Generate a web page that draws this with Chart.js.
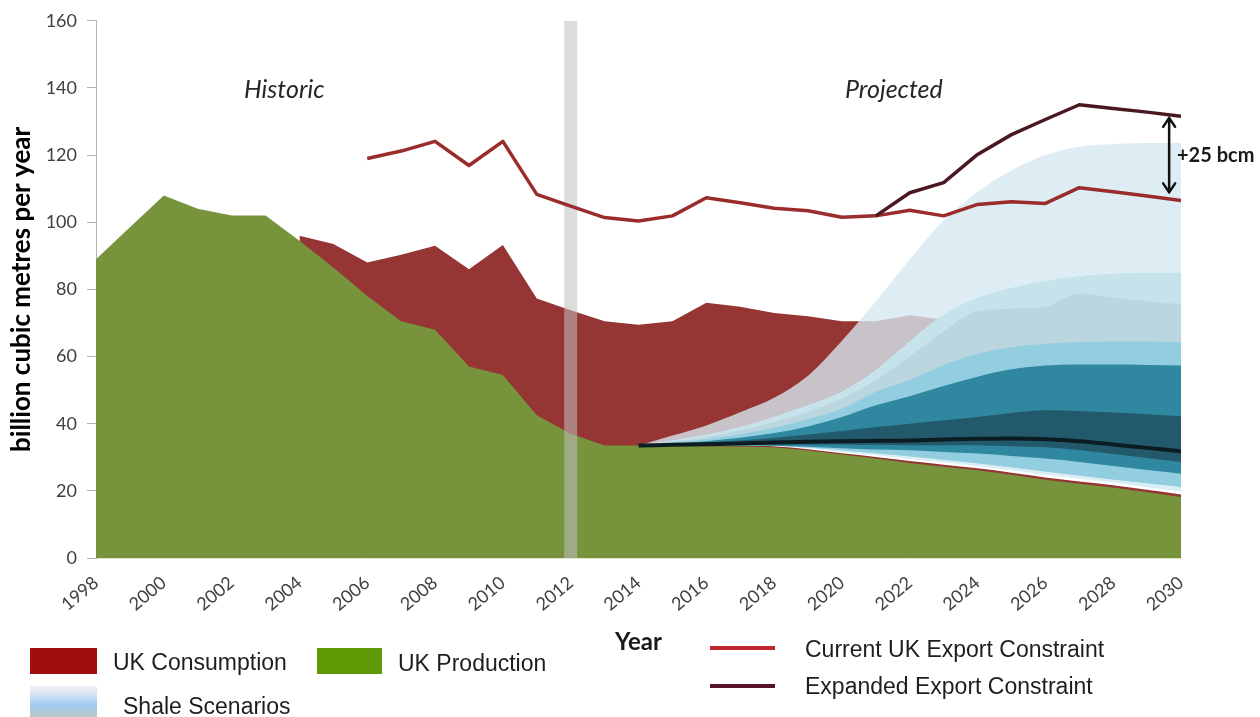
<!DOCTYPE html>
<html><head><meta charset="utf-8">
<script src="https://cdn.jsdelivr.net/npm/chart.js@4.4.0/dist/chart.umd.min.js"></script>
<style>
html,body{margin:0;padding:0;background:#fff;}
#wrap{position:relative;width:1260px;height:717px;overflow:hidden;background:#fff;}
#c{position:absolute;left:0;top:0;}
.t{position:absolute;white-space:nowrap;}
.ann{font-family:Lato,sans-serif;font-style:italic;font-size:25px;line-height:25px;color:#262626;}
.leg{font-family:"Liberation Sans",Arial,sans-serif;font-size:23px;line-height:23px;color:#1e1e1e;}
.sw{position:absolute;}
</style></head><body>
<div id="wrap">
<canvas id="c" width="1260" height="717"></canvas>
<div class="t ann" style="left:244px;top:76px;">Historic</div>
<div class="t ann" style="left:845px;top:76px;">Projected</div>
<div class="t" style="left:1177px;top:144px;font-family:Lato,sans-serif;font-weight:bold;font-size:20px;line-height:20px;color:#1a1a1a;">+25 bcm</div>

<div class="sw" style="left:30px;top:648px;width:67px;height:26px;background:#9f0e0e;"></div>
<div class="t leg" style="left:113px;top:651px;">UK Consumption</div>
<div class="sw" style="left:317px;top:648px;width:65px;height:26px;background:#5e9a06;"></div>
<div class="t leg" style="left:398px;top:652px;">UK Production</div>
<div class="sw" style="left:30px;top:686px;width:67px;height:31px;background:linear-gradient(to bottom,#f7eff8 0%,#dbe5f6 25%,#a0cbf2 60%,#b9c8c2 100%);"></div>
<div class="t leg" style="left:123px;top:695px;">Shale Scenarios</div>
<div class="sw" style="left:710px;top:646px;width:65px;height:4px;background:#c0262d;"></div>
<div class="t leg" style="left:805px;top:638px;">Current UK Export Constraint</div>
<div class="sw" style="left:710px;top:684px;width:65px;height:4px;background:#571427;"></div>
<div class="t leg" style="left:805px;top:675px;">Expanded Export Constraint</div>
</div>
<script>
// ---- data (billion cubic metres per year) ----
const productionStart = 1998;
const production = [89, 98.5, 108, 104, 102, 102, 94.5, 86.5, 78, 70.5, 68, 57, 54.5, 42.5, 37, 33.5, 33.5,
  33.5, 33.3, 33.2, 33, 32, 30.8, 29.6, 28.3, 27.2, 26.1, 24.8, 23.3, 22.1, 21, 19.6, 18.2];
const consumptionStart = 2004;
const consumption = [96, 93.5, 88, 90.3, 93, 86, 93.2, 77.3, 73.8, 70.5, 69.5, 70.5, 76, 74.8, 73, 72, 70.5,
  70.5, 72.3, 71, 70, 70, 70, 70, 70, 70, 70];
const currentStart = 2006;
const currentConstraint = [119, 121.2, 124.1, 116.9, 124.1, 108.3, 104.8, 101.4, 100.4, 101.9, 107.3, 105.8,
  104.2, 103.4, 101.5, 101.9, 103.6, 101.9, 105.3, 106.1, 105.6, 110.3, 109.1, 107.8, 106.5];
const expandedStart = 2021;
const expandedConstraint = [101.9, 108.8, 111.8, 120.2, 126.1, 130.6, 135, 133.9, 132.8, 131.6];

// shale scenario fan, 2014-2030, band boundaries from outermost top to outermost bottom
const fanStart = 2014;
const shaleU1 = [33.5, 36.5, 39.5, 43.4, 47.7, 54.3, 64.7, 76.5, 89, 100.5, 109, 115.5, 120, 122.5, 123.3, 123.6, 123.7];
const shaleU2 = [33.5, 35, 36.7, 39, 42, 45.5, 49.5, 56, 64.5, 72.5, 77.5, 80.5, 82.5, 84, 84.7, 85, 85];
const shaleU3 = [33.5, 34.7, 36, 38, 40.5, 43.5, 47.5, 53, 60, 67.5, 73.5, 74.2, 74.8, 78.8, 77.5, 76.5, 75.6];
const shaleU4 = [33.5, 34.4, 35.4, 36.8, 38.8, 41.3, 44.5, 49.5, 53, 57.5, 60.8, 62.8, 63.8, 64.3, 64.5, 64.5, 64.3];
const shaleU5 = [33.5, 34.1, 34.8, 35.8, 37.2, 39.2, 42, 45.5, 48.2, 51.2, 54, 56.2, 57.3, 57.6, 57.6, 57.5, 57.3];
const shaleU6 = [33.5, 33.9, 34.4, 35, 35.8, 36.8, 37.8, 39, 40, 41, 42, 43.2, 44, 43.8, 43.3, 42.8, 42.2];
const shaleCentral = [33.5, 33.7, 33.9, 34.1, 34.4, 34.6, 34.8, 34.9, 35, 35.3, 35.5, 35.6, 35.4, 34.8, 33.8, 32.8, 31.8];
const shaleL6 = [33.5, 33.5, 33.6, 33.7, 33.8, 33.8, 33.8, 33.7, 33.6, 33.6, 33.6, 33.3, 33, 32.2, 31, 29.8, 28.6];
const shaleL5 = [33.5, 33.5, 33.5, 33.5, 33.4, 33.1, 32.7, 32.3, 32.1, 31.6, 31.1, 30.4, 29.6, 28.6, 27.4, 26.2, 25.1];
const shaleL4 = [33.5, 33.5, 33.5, 33.5, 33.4, 32.9, 32.1, 31.2, 30.3, 29.3, 28.2, 27.0, 25.8, 24.6, 23.4, 22.3, 21.2];
const shaleLp = [33.5, 33.5, 33.5, 33.5, 33.35, 32.6, 31.5, 30.6, 29.5, 28.5, 27.4, 26.1, 24.8, 23.6, 22.5, 21.1, 19.8];
const shaleL1 = [33.5, 33.5, 33.5, 33.5, 33.3, 32.4, 31.2, 30.1, 28.9, 27.8, 26.7, 25.4, 24, 22.8, 21.7, 20.3, 18.9];

const xTickYears = [1998, 2030];
const yTicks = [0, 160];
const dividerYear = 2012;
const arrowYear = 2029.65, arrowTop = 131.4, arrowBottom = 108.6;

function pts(start, arr) { return arr.map((v, i) => ({x: start + i, y: v})); }

const ds = [];
function add(o) { ds.push(o); return ds.length - 1; }
const base = {pointRadius: 0, pointHoverRadius: 0, borderWidth: 0, borderColor: 'rgba(0,0,0,0)', fill: false, tension: 0};
const fanBase = Object.assign({}, base, {cubicInterpolationMode: 'monotone'});

add(Object.assign({}, base, {label: 'UK Consumption', data: pts(consumptionStart, consumption), fill: 'origin', backgroundColor: '#963634', order: 100}));
add(Object.assign({}, base, {label: 'UK Production', data: pts(productionStart, production), fill: 'origin', backgroundColor: '#77933c', order: 99}));
// boundaries (not drawn)
const iU2 = add(Object.assign({}, fanBase, {label: 'b-u2', data: pts(fanStart, shaleU2), order: 200}));
const iL6 = add(Object.assign({}, fanBase, {label: 'b-l6', data: pts(fanStart, shaleL6), order: 200}));
const iL5 = add(Object.assign({}, fanBase, {label: 'b-l5', data: pts(fanStart, shaleL5), order: 200}));
const iL4 = add(Object.assign({}, fanBase, {label: 'b-l4', data: pts(fanStart, shaleL4), order: 200}));
const iLp = add(Object.assign({}, fanBase, {label: 'b-lp', data: pts(fanStart, shaleLp), order: 200}));
const iL1 = add(Object.assign({}, fanBase, {label: 'b-l1', data: pts(fanStart, shaleL1), order: 200}));
// fan bands
add(Object.assign({}, fanBase, {label: 'Shale Scenarios', data: pts(fanStart, shaleU1), fill: iU2, backgroundColor: 'rgba(213,232,241,0.79)', order: 98}));
add(Object.assign({}, fanBase, {label: 's-white', data: pts(fanStart, shaleU2), fill: iL1, backgroundColor: '#ffffff', order: 97}));
add(Object.assign({}, fanBase, {label: 's-pale', data: pts(fanStart, shaleU2), fill: iLp, backgroundColor: '#d9edf4', order: 96}));
add(Object.assign({}, fanBase, {label: 's-2', data: pts(fanStart, shaleU2), fill: iL4, backgroundColor: '#c6e2eb', order: 95}));
add(Object.assign({}, fanBase, {label: 's-3', data: pts(fanStart, shaleU3), fill: iL4, backgroundColor: '#bcd6e0', order: 94}));
add(Object.assign({}, fanBase, {label: 's-4', data: pts(fanStart, shaleU4), fill: iL4, backgroundColor: '#93cde0', order: 93}));
add(Object.assign({}, fanBase, {label: 's-5', data: pts(fanStart, shaleU5), fill: iL5, backgroundColor: '#2f87a0', order: 92}));
add(Object.assign({}, fanBase, {label: 's-6', data: pts(fanStart, shaleU6), fill: iL6, backgroundColor: '#22596b', order: 91}));
// historic / projected divider
add(Object.assign({}, base, {label: 'divider', data: [{x: dividerYear, y: yTicks[0]}, {x: dividerYear, y: yTicks[1]}],
  borderWidth: 13, borderColor: 'rgba(191,191,191,0.55)', borderCapStyle: 'butt', order: 60}));
add(Object.assign({}, fanBase, {label: 'central', data: pts(fanStart, shaleCentral), borderWidth: 4, borderColor: '#0b1c22', order: 40}));
add(Object.assign({}, base, {label: 'Current UK Export Constraint', data: pts(currentStart, currentConstraint), borderWidth: 3.5, borderColor: '#9a2c2c', borderJoinStyle: 'round', order: 30}));
add(Object.assign({}, base, {label: 'Expanded Export Constraint', data: pts(expandedStart, expandedConstraint), borderWidth: 3.5, borderColor: '#4a1820', borderJoinStyle: 'round', order: 20}));

const arrowPlugin = {
  id: 'bcmArrow',
  afterDatasetsDraw(chart) {
    const {ctx, scales: {x, y}} = chart;
    const px = x.getPixelForValue(arrowYear);
    const t = y.getPixelForValue(arrowTop), b = y.getPixelForValue(arrowBottom);
    ctx.save();
    ctx.strokeStyle = '#111';
    ctx.lineWidth = 2.5;
    ctx.lineCap = 'round';
    ctx.lineJoin = 'round';
    ctx.beginPath();
    ctx.moveTo(px, t + 1); ctx.lineTo(px, b - 1);
    ctx.moveTo(px - 6, t + 10); ctx.lineTo(px, t + 1); ctx.lineTo(px + 6, t + 10);
    ctx.moveTo(px - 6, b - 10); ctx.lineTo(px, b - 1); ctx.lineTo(px + 6, b - 10);
    ctx.stroke();
    ctx.restore();
  }
};

new Chart(document.getElementById('c'), {
  type: 'line',
  data: {datasets: ds},
  plugins: [arrowPlugin],
  options: {
    responsive: false, animation: false, devicePixelRatio: 1,
    layout: {padding: {left: 0, top: 20, right: 79, bottom: 0}, autoPadding: false},
    plugins: {legend: {display: false}, tooltip: {enabled: false}},
    scales: {
      x: {
        type: 'linear', min: xTickYears[0], max: xTickYears[1],
        afterFit: s => { s.height = 159; },
        ticks: {stepSize: 2, autoSkip: false, minRotation: 40, maxRotation: 40, padding: 14, color: '#404040',
          font: {family: 'Lato', size: 18}, callback: v => String(v)},
        grid: {display: false, drawTicks: false},
        border: {display: true, color: '#dbe6cf', width: 1},
        title: {display: true, text: 'Year', color: '#1a1a1a', font: {family: 'Lato', size: 24, weight: 'bold'}, padding: {top: 0, bottom: 60}}
      },
      y: {
        min: yTicks[0], max: yTicks[1],
        afterFit: s => { s.width = 96; },
        ticks: {stepSize: 20, color: '#404040', font: {family: 'Lato', size: 18}, padding: 10},
        grid: {drawOnChartArea: false, drawTicks: true, tickLength: 9, color: '#b3b3b3'},
        border: {display: true, color: '#b3b3b3'},
        title: {display: true, text: 'billion cubic metres per year', color: '#000', font: {family: 'Lato', size: 26, weight: 'bold'}, padding: {top: 6, bottom: 0}}
      }
    }
  }
});
</script>
</body></html>
